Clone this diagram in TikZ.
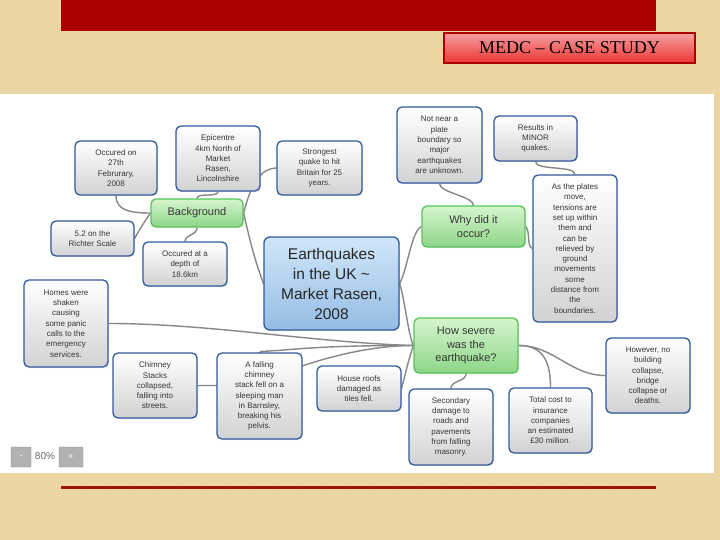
\documentclass[tikz,border=0pt]{standalone}
\usepackage{fontspec}
\setmainfont{Liberation Sans}
\newfontfamily\titlefont{Liberation Serif}
\usetikzlibrary{shadows,calc}
\pgfdeclarelayer{back}
\pgfdeclarelayer{links}
\pgfsetlayers{back,links,main}
\definecolor{parch}{RGB}{236,214,163}
\definecolor{parchdark}{RGB}{205,180,125}
\definecolor{barred}{RGB}{170,0,0}
\definecolor{linered}{RGB}{160,18,10}
\definecolor{boxblue}{RGB}{47,90,155}
\definecolor{leafbot}{RGB}{210,210,213}
\definecolor{greentop}{RGB}{214,245,206}
\definecolor{greenbot}{RGB}{140,214,135}
\definecolor{greenedge}{RGB}{88,196,88}
\definecolor{centtop}{RGB}{208,230,249}
\definecolor{centbot}{RGB}{148,189,228}
\definecolor{conngray}{RGB}{135,135,135}
\definecolor{txtgray}{RGB}{55,55,55}
\definecolor{titletop}{RGB}{244,160,160}
\definecolor{titlebot}{RGB}{238,52,52}
\definecolor{btngray}{RGB}{178,178,178}
\tikzset{
  boxshadow/.style={drop shadow={opacity=0.18,shadow xshift=1pt,shadow yshift=-1pt}},
  leaf/.style={draw=boxblue, line width=1.3pt, rounded corners=5pt, top color=white,
    bottom color=leafbot, align=center, font=\fontsize{8}{10.3}\selectfont,
    text=txtgray, minimum width=84pt, inner sep=0pt, boxshadow},
  branch/.style={draw=greenedge, line width=1.3pt, rounded corners=5pt, top color=greentop,
    bottom color=greenbot, align=center, font=\fontsize{11}{13.5}\selectfont,
    text=txtgray, inner sep=0pt, boxshadow},
  hub/.style={draw=boxblue, line width=1.3pt, rounded corners=6pt, top color=centtop,
    bottom color=centbot, align=center, font=\fontsize{15.5}{20}\selectfont,
    text={black!85}, inner sep=0pt, boxshadow},
  conn/.style={draw=conngray, line width=1.4pt},
  zbtn/.style={fill=btngray, draw=btngray!80!black, line width=0.4pt, rounded corners=1pt,
    text=white, inner sep=0pt, minimum height=20pt, font=\fontsize{9}{10}\selectfont}
}
\begin{document}
\begin{tikzpicture}[x=1pt,y=-1pt]
\useasboundingbox (0,0) rectangle (720,540);
\begin{pgfonlayer}{back}
  \fill[parch] (0,0) rectangle (720,540);
  \foreach \i in {3,9,...,720} {
    \draw[parchdark, line width=0.6pt, opacity=0.06] (\i,0) -- (\i,540);
  }
  \foreach \j in {4,13,...,540} {
    \draw[parchdark, line width=0.5pt, opacity=0.04] (0,\j) -- (720,\j);
  }
  \fill[white] (0,94) rectangle (714,473);
  \fill[barred] (61,0) rectangle (656,31);
  \fill[linered] (61,486) rectangle (656,489);
\end{pgfonlayer}

\node[draw=barred, line width=1.5pt, top color=titletop, bottom color=titlebot,
  minimum width=251pt, minimum height=30pt, inner sep=0pt,
  font={\titlefont\fontsize{18}{20}\selectfont}] (title) at (569.5,48) {MEDC – CASE STUDY};

% hub and branches
\node[hub, minimum width=135pt, minimum height=93pt] (central) at (331.5,283.5)
  {Earthquakes\\in the UK \textasciitilde\\Market Rasen,\\2008};
\node[branch, minimum width=92pt, minimum height=28pt] (bg) at (197,213) {Background};
\node[branch, minimum width=103pt, minimum height=41pt] (why) at (473.5,226.5) {Why did it\\occur?};
\node[branch, minimum width=104pt, minimum height=55pt] (how) at (466,345.5) {How severe\\was the\\earthquake?};

% background leaves
\node[leaf, minimum width=82pt, minimum height=54pt] (occ27) at (116,168) {Occured on\\27th\\Februrary,\\2008};
\node[leaf, minimum height=65pt] (epi) at (218,158.5) {Epicentre\\4km North of\\Market\\Rasen,\\Lincolnshire};
\node[leaf, minimum width=85pt, minimum height=54pt] (strong) at (319.5,168) {Strongest\\quake to hit\\Britain for 25\\years.};
\node[leaf, minimum width=83pt, minimum height=35pt] (richter) at (92.5,238.5) {5.2 on the\\Richter Scale};
\node[leaf, minimum height=44pt] (depth) at (185,264) {Occured at a\\depth of\\18.6km};

% why leaves
\node[leaf, minimum width=85pt, minimum height=76pt] (notnear) at (439.5,145) {Not near a\\plate\\boundary so\\major\\earthquakes\\are unknown.};
\node[leaf, minimum width=83pt, minimum height=45pt] (results) at (535.5,138.5) {Results in\\MINOR\\quakes.};
\node[leaf, minimum height=147pt] (plates) at (575,248.5) {As the plates\\move,\\tensions are\\set up within\\them and\\can be\\relieved by\\ground\\movements\\some\\distance from\\the\\boundaries.};

% how leaves
\node[leaf, minimum height=76pt] (secondary) at (451,427) {Secondary\\damage to\\roads and\\pavements\\from falling\\masonry.};
\node[leaf, minimum width=83pt, minimum height=65pt] (total) at (550.5,420.5) {Total cost to\\insurance\\companies\\an estimated\\£30 million.};
\node[leaf, minimum height=75pt] (however) at (648,375.5) {However, no\\building\\collapse,\\bridge\\collapse or\\deaths.};
\node[leaf, minimum height=87pt] (homes) at (66,323.5) {Homes were\\shaken\\causing\\some panic\\calls to the\\emergency\\services.};
\node[leaf, minimum height=65pt] (chimney) at (155,385.5) {Chimney\\Stacks\\collapsed,\\falling into\\streets.};
\node[leaf, minimum width=85pt, minimum height=86pt] (afalling) at (259.5,396) {A falling\\chimney\\stack fell on a\\sleeping man\\in Barnsley,\\breaking his\\pelvis.};
\node[leaf, minimum height=45pt] (roofs) at (359,388.5) {House roofs\\damaged as\\tiles fell.};

% zoom controls
\node[zbtn, minimum width=20pt] (zminus) at (21,457) {-};
\node[font=\fontsize{10}{12}\selectfont, text=black!60, inner sep=0pt] (zpct) at (45,456) {80\%};
\node[zbtn, minimum width=24pt] (zplus) at (71,457) {+};

% connectors
\begin{pgfonlayer}{links}
  \draw[conn] (bg.west) .. controls +(-22,0) and +(0,14) .. (occ27.south);
  \draw[conn] (bg.north) .. controls +(0,-6) and +(0,6) .. (epi.south);
  \draw[conn] (bg.east) .. controls +(8,-32) and +(-14,0) .. (strong.west);
  \draw[conn] (bg.west) .. controls +(-5,8) and +(5,-10) .. (richter.east);
  \draw[conn] (bg.south) .. controls +(0,8) and +(0,-7) .. (depth.north);
  \draw[conn] (bg.east) .. controls +(10,45) and +(-5,-15) .. (central.west);

  \draw[conn] (central.east) .. controls +(8,-15) and +(-10,5) .. (why.west);
  \draw[conn] (central.east) .. controls +(6,20) and +(-6,-15) .. (how.west);

  \draw[conn] (why.north) .. controls +(0,-9) and +(0,9) .. (notnear.south);
  \draw[conn] (why.east) .. controls +(5,6) and +(-6,-3) .. (plates.west);
  \draw[conn] (plates.north) .. controls +(0,-9) and +(0,9) .. (results.south);

  \draw[conn] (how.west) .. controls +(-100,-3) and +(100,0) .. (homes.east);
  \draw[conn] (how.west) .. controls +(-100,0) and +(40,-2) .. ($(chimney.east)+(63,-34)$)
     -- ($(chimney.east)+(40,0)$) -- (chimney.east);
  \draw[conn] (afalling.35) .. controls +(30,-10) and +(-40,0) .. (how.west);
  \draw[conn] (how.west) .. controls +(-5,15) and +(3,-12) .. (roofs.east);
  \draw[conn] (how.south) .. controls +(0,8) and +(0,-8) .. (secondary.north);
  \draw[conn] (how.east) .. controls +(25,0) and +(0,-25) .. (total.north);
  \draw[conn] (how.east) .. controls +(35,0) and +(-35,0) .. (however.west);
\end{pgfonlayer}
\end{tikzpicture}
\end{document}
